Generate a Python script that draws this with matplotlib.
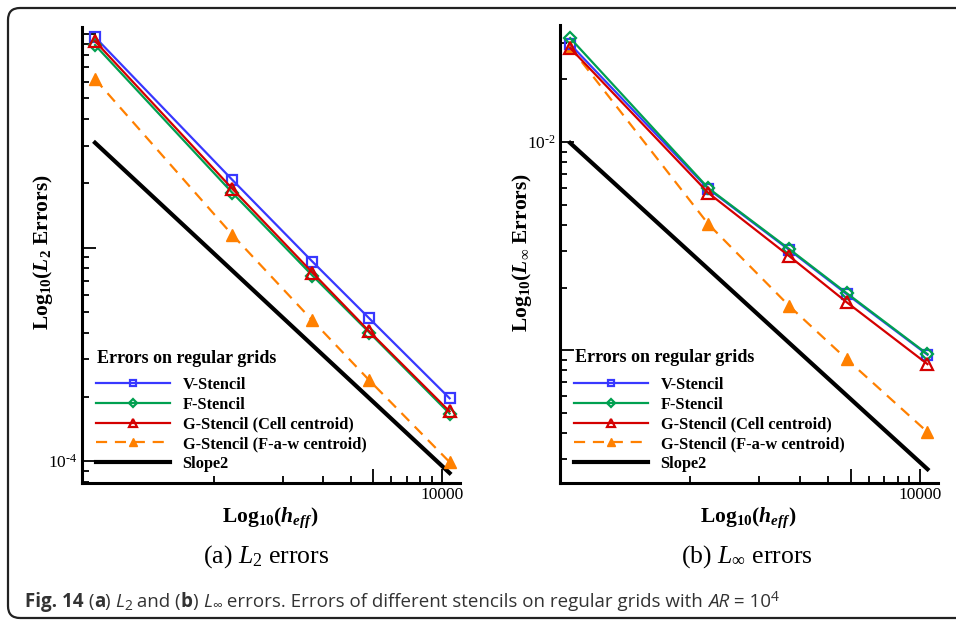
import matplotlib
matplotlib.use("Agg")
import matplotlib.pyplot as plt
from matplotlib.patches import FancyBboxPatch
from matplotlib.transforms import IdentityTransform
from matplotlib.ticker import FixedLocator, FixedFormatter, NullFormatter


# h_eff values of the five regular grids
H_EFF = [300, 1200, 2700, 4800, 10800]
SLOPE_X = [300, 10800]

# (a) L2 errors
L2_V = [9.68e-3, 2.08e-3, 8.6e-4, 4.66e-4, 1.97e-4]
L2_F = [8.89e-3, 1.81e-3, 7.4e-4, 4.0e-4, 1.67e-4]
L2_G_CELL = [9.27e-3, 1.89e-3, 7.64e-4, 4.05e-4, 1.71e-4]
L2_G_FAW = [6.16e-3, 1.15e-3, 4.56e-4, 2.39e-4, 9.9e-5]
L2_SLOPE = [3.1e-3, 8.8e-5]

# (b) Linf errors
LINF_V = [2.95e-2, 5.95e-3, 3.03e-3, 1.86e-3, 9.5e-4]
LINF_F = [3.16e-2, 6.0e-3, 3.06e-3, 1.88e-3, 9.57e-4]
LINF_G_CELL = [2.83e-2, 5.69e-3, 2.83e-3, 1.70e-3, 8.57e-4]
LINF_G_FAW = [2.86e-2, 4.03e-3, 1.63e-3, 9.06e-4, 4.04e-4]
LINF_SLOPE = [9.9e-3, 2.68e-4]

SERIES_LABELS = [
    "V-Stencil",
    "F-Stencil",
    "G-Stencil (Cell centroid)",
    "G-Stencil (F-a-w centroid)",
    "Slope2",
]
LEGEND_TITLE = "Errors on regular grids"

X_MAJOR = [5000, 10000]
X_MINOR = [1000, 2000, 3000, 4000, 6000, 7000, 8000, 9000]
X_LABELED = {10000: "10000"}

BLUE = "#3838ff"
GREEN = "#00a050"
RED = "#d40000"
ORANGE = "#ff8000"

W, H = 956, 620
SERIF = "Liberation Serif"

plt.rcParams["font.family"] = SERIF
plt.rcParams["mathtext.fontset"] = "custom"
plt.rcParams["mathtext.rm"] = "Liberation Serif"
plt.rcParams["mathtext.it"] = "Liberation Serif:italic"
plt.rcParams["mathtext.bf"] = "Liberation Serif:bold"
plt.rcParams["mathtext.bfit"] = "Liberation Serif:italic:bold"


def decade_minors(lo_exp, hi_exp):
    ticks = []
    for e in range(lo_exp, hi_exp + 1):
        for m in range(2, 10):
            ticks.append(m * 10.0 ** e)
    return ticks


def draw_panel(ax, v, f, g_cell, g_faw, slope, ylim, y_major, y_labeled, xlim, title_y):
    ax.plot(H_EFF, v, color=BLUE, lw=1.6, marker="s", ms=7, mfc="none", mew=1.6,
            label=SERIES_LABELS[0], zorder=4)
    ax.plot(H_EFF, f, color=GREEN, lw=1.6, marker="D", ms=6.5, mfc="none", mew=1.6,
            label=SERIES_LABELS[1], zorder=5)
    ax.plot(H_EFF, g_cell, color=RED, lw=1.6, marker="^", ms=8, mfc="none", mew=1.6,
            label=SERIES_LABELS[2], zorder=6)
    ax.plot(H_EFF, g_faw, color=ORANGE, lw=1.6, ls=(0, (5, 3.5)), marker="^", ms=8,
            mfc=ORANGE, mec=ORANGE, label=SERIES_LABELS[3], zorder=3)
    ax.plot(SLOPE_X, slope, color="black", lw=3, label=SERIES_LABELS[4], zorder=2)

    ax.set_xscale("log")
    ax.set_yscale("log")
    ax.set_xlim(*xlim)
    ax.set_ylim(*ylim)

    ax.xaxis.set_major_locator(FixedLocator(X_MAJOR))
    ax.xaxis.set_major_formatter(FixedFormatter([X_LABELED.get(t, "") for t in X_MAJOR]))
    ax.xaxis.set_minor_locator(FixedLocator(X_MINOR))
    ax.xaxis.set_minor_formatter(NullFormatter())

    ax.yaxis.set_major_locator(FixedLocator(y_major))
    ax.yaxis.set_major_formatter(FixedFormatter([y_labeled.get(t, "") for t in y_major]))
    ax.yaxis.set_minor_locator(FixedLocator(decade_minors(-5, -2)))
    ax.yaxis.set_minor_formatter(NullFormatter())

    ax.tick_params(which="both", direction="in", width=1.3, top=False, right=False,
                   labelsize=12.5, pad=3)
    ax.tick_params(which="major", length=10)
    ax.tick_params(which="minor", length=5)

    for side in ["top", "right"]:
        ax.spines[side].set_visible(False)
    for side in ["left", "bottom"]:
        ax.spines[side].set_linewidth(2.2)

    ax.legend(
        loc="lower left",
        bbox_to_anchor=(0.008, 0.0),
        frameon=False,
        handlelength=4.5,
        handletextpad=0.75,
        labelspacing=0.22,
        borderpad=0.2,
        markerscale=0.7,
        prop={"family": SERIF, "weight": "bold", "size": 11.8},
    )
    ax.text(0.04, title_y, LEGEND_TITLE, transform=ax.transAxes, ha="left", va="center",
            family=SERIF, weight="bold", size=13)


def put_pieces(fig, x_px, y_px, pieces, color):
    renderer = fig.canvas.get_renderer()
    x = x_px
    for text, style, size, dy in pieces:
        kw = {"family": ["Open Sans", "Noto Sans", "DejaVu Sans"], "size": size, "color": color}
        if "b" in style:
            kw["weight"] = "bold"
        if "i" in style:
            kw["style"] = "italic"
        t = fig.text(x / W, (y_px + dy) / H, text, va="baseline", ha="left", **kw)
        x += t.get_window_extent(renderer).width


def main() -> None:
    fig = plt.figure(figsize=(W / 100, H / 100), dpi=100)

    ax_a = fig.add_axes([82 / W, 1 - 483 / H, 378 / W, 456 / H])
    ax_b = fig.add_axes([560 / W, 1 - 483 / H, 378 / W, 458 / H])

    draw_panel(ax_a, L2_V, L2_F, L2_G_CELL, L2_G_FAW, L2_SLOPE,
               ylim=(7.9e-5, 1.08e-2), y_major=[1e-4, 1e-3, 1e-2],
               y_labeled={1e-4: "$10^{\u20104}$"}, xlim=(263, 12000), title_y=0.274)
    draw_panel(ax_b, LINF_V, LINF_F, LINF_G_CELL, LINF_G_FAW, LINF_SLOPE,
               ylim=(2.3e-4, 3.65e-2), y_major=[1e-3, 1e-2],
               y_labeled={1e-2: "$10^{\u20102}$"}, xlim=(271, 12000), title_y=0.275)

    label_kw = {"family": SERIF, "weight": "bold", "size": 15.5}
    fig.text(43 / W, 1 - 252 / H, r"Log$_{\mathbf{10}}$($\mathbfit{L}_{\mathbf{2}}$ Errors)",
             rotation=90, ha="center", va="center", **label_kw)
    fig.text(522 / W, 1 - 253 / H, r"Log$_{\mathbf{10}}$($\mathbfit{L}_{\infty}$ Errors)",
             rotation=90, ha="center", va="center", **label_kw)
    fig.text(270 / W, 1 - 518 / H, r"Log$_{\mathbf{10}}$($\mathbfit{h}_{\mathbfit{eff}}$)",
             ha="center", va="center", **label_kw)
    fig.text(748 / W, 1 - 518 / H, r"Log$_{\mathbf{10}}$($\mathbfit{h}_{\mathbfit{eff}}$)",
             ha="center", va="center", **label_kw)

    cap_kw = {"family": SERIF, "size": 18.5}
    fig.text(266 / W, 1 - 563 / H, r"(a) $L_2$ errors", ha="center", va="baseline", **cap_kw)
    fig.text(747 / W, 1 - 563 / H, r"(b) $L_\infty$ errors", ha="center", va="baseline", **cap_kw)

    # panel frame with a rounded top-left corner, running off the right edge
    frame = FancyBboxPatch((8, 2), 1200, 610, boxstyle="round,pad=0,rounding_size=12",
                           transform=IdentityTransform(), fill=False, lw=1.6,
                           edgecolor="#222222", zorder=0)
    fig.patches.append(frame)

    caption = [
        ("Fig. 14", "b", 13.5, 0),
        (" (", "", 13.5, 0),
        ("a", "b", 13.5, 0),
        (") ", "", 13.5, 0),
        ("L", "i", 13.5, 0),
        ("2", "", 10, -3),
        (" and (", "", 13.5, 0),
        ("b", "b", 13.5, 0),
        (") ", "", 13.5, 0),
        ("L", "i", 13.5, 0),
        ("\u221e", "", 10, -3),
        (" errors. Errors of different stencils on regular grids with ", "", 13.5, 0),
        ("AR", "i", 13.5, 0),
        (" = 10", "", 13.5, 0),
        ("4", "", 10, 6),
    ]
    put_pieces(fig, 25, 13, caption, "#333333")

    fig.savefig("out.png", dpi=100)
    plt.close(fig)


if __name__ == "__main__":
    main()
